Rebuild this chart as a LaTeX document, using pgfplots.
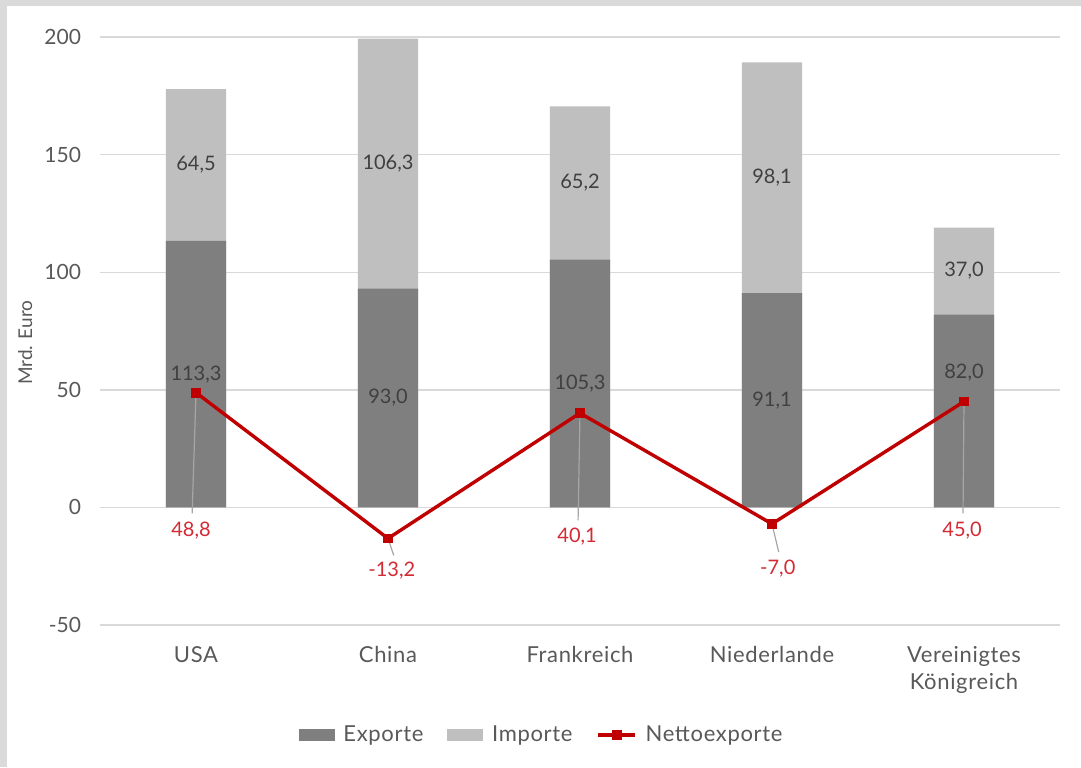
\documentclass[border=0pt]{standalone}
\usepackage{pgfplots}
\pgfplotsset{compat=1.18}
\usepackage{pgfplotstable}
\usepackage{fontspec}
\setmainfont{Lato}
\newfontfamily\widefont[LetterSpace=3]{Lato}
\definecolor{expc}{HTML}{7F7F7F}
\definecolor{impc}{HTML}{BFBFBF}
\definecolor{netred}{HTML}{C00000}
\definecolor{lblred}{HTML}{D42A34}
\definecolor{txt}{HTML}{595959}
\definecolor{barlbl}{HTML}{404040}
\definecolor{gridc}{HTML}{D9D9D9}
\definecolor{framec}{HTML}{DADADA}
\definecolor{leader}{HTML}{A6A6A6}

% elab: vertical position of the export label (centred, except UK moved up)
\pgfplotstableread{
x exp imp net elab lx ly ex ey
0 113.3 64.5 48.8 56.65 -0.026 -9.8 -0.02 -2.5
1 93.0 106.3 -13.2 46.5 1.02 -26.8 1.03 -20.4
2 105.3 65.2 40.1 52.65 1.985 -12.3 1.99 -5.5
3 91.1 98.1 -7.0 45.55 3.03 -26.0 3.035 -19.0
4 82.0 37.0 45.0 57.4 3.99 -9.8 3.995 -2.5
}\data

\begin{document}
\begin{tikzpicture}
\path[use as bounding box] (-50pt,-71pt) rectangle (490.5pt,312.5pt);
\fill[framec] (-50pt,-71pt) rectangle (490.5pt,312.5pt);
\fill[white] (-46.5pt,-71pt) rectangle (490.5pt,309.5pt);
\begin{axis}[
  scale only axis,
  width=480pt, height=294pt,
  xmin=-0.5, xmax=4.5,
  ymin=-50, ymax=200,
  ytick={-50,0,50,100,150,200},
  xtick={0,1,2,3,4},
  xticklabels={USA,China,Frankreich,Niederlande,{Vereinigtes\\Königreich}},
  xticklabel style={align=center, text=txt, font=\widefont\fontsize{11}{13.5}\selectfont, yshift=-7pt},
  yticklabel style={text=txt, font=\fontsize{10.5}{12.5}\selectfont, xshift=-6pt},
  /pgf/number format/assume math mode=true,
  ymajorgrids,
  grid style={gridc, line width=0.7pt},
  axis line style={draw=none},
  major tick length=0pt,
  tick style={draw=none},
  ylabel={Mrd. Euro},
  ylabel style={at={(axis description cs:-0.078,0.48)}, anchor=center, text=txt, font=\fontsize{9.5}{11}\selectfont},
  clip=false,
  legend columns=3,
  legend style={draw=none, fill=none, at={(0.461,-0.187)}, anchor=center,
    font=\widefont\fontsize{11}{13}\selectfont, text=txt,
    /tikz/every even column/.append style={column sep=10pt},
    /tikz/every odd column/.append style={column sep=2.5pt}},
  nodes near coords={\pgfmathprintnumber[fixed,fixed zerofill,precision=1,use comma,assume math mode=true]{\pgfplotspointmeta}},
]
\addlegendimage{legend image code/.code={\fill[expc] (0pt,-2.8pt) rectangle (17.5pt,2.8pt);}}
\addlegendentry{Exporte}
\addlegendimage{legend image code/.code={\fill[impc] (0pt,-2.8pt) rectangle (17.5pt,2.8pt);}}
\addlegendentry{Importe}
\addlegendimage{legend image code/.code={\draw[netred,line width=1.6pt] (0pt,0pt) -- (18.5pt,0pt); \fill[netred] (9.25pt,0pt) +(-2.2pt,-2.2pt) rectangle +(2.2pt,2.2pt);}}
\addlegendentry{Nettoexporte}

% stacked bars (import drawn as total, export over it)
\addplot[ybar, bar shift=0pt, bar width=0.313, fill=impc, draw=none, forget plot, nodes near coords=]
  table[x=x, y expr=\thisrow{exp}+\thisrow{imp}] {\data};
\addplot[ybar, bar shift=0pt, bar width=0.313, fill=expc, draw=none, forget plot, nodes near coords=]
  table[x=x, y=exp] {\data};

% bar labels
\addplot[draw=none, mark=none, forget plot, point meta=explicit,
  every node near coord/.style={anchor=center, text=barlbl, font=\fontsize{10}{12}\selectfont}]
  table[x=x, y=elab, meta=exp] {\data};
\addplot[draw=none, mark=none, forget plot, point meta=explicit,
  every node near coord/.style={anchor=center, text=barlbl, font=\fontsize{10}{12}\selectfont}]
  table[x=x, y expr=\thisrow{exp}+\thisrow{imp}/2, meta=imp] {\data};

% leader lines
\addplot[leader, line width=0.6pt, mark=none, forget plot, nodes near coords=,
  quiver={u=\thisrow{ex}-\thisrow{x}, v=\thisrow{ey}-\thisrow{net}}]
  table[x=x, y=net] {\data};

% net exports line
\addplot[netred, line width=1.7pt, mark=square*, mark size=2.2pt, mark options={fill=netred, draw=netred, line width=0pt}, forget plot, nodes near coords=]
  table[x=x, y=net] {\data};

% net labels
\addplot[draw=none, mark=none, forget plot, point meta=explicit,
  every node near coord/.style={anchor=center, text=lblred, font=\fontsize{10}{12}\selectfont}]
  table[x=lx, y=ly, meta=net] {\data};
\end{axis}
\end{tikzpicture}
\end{document}
